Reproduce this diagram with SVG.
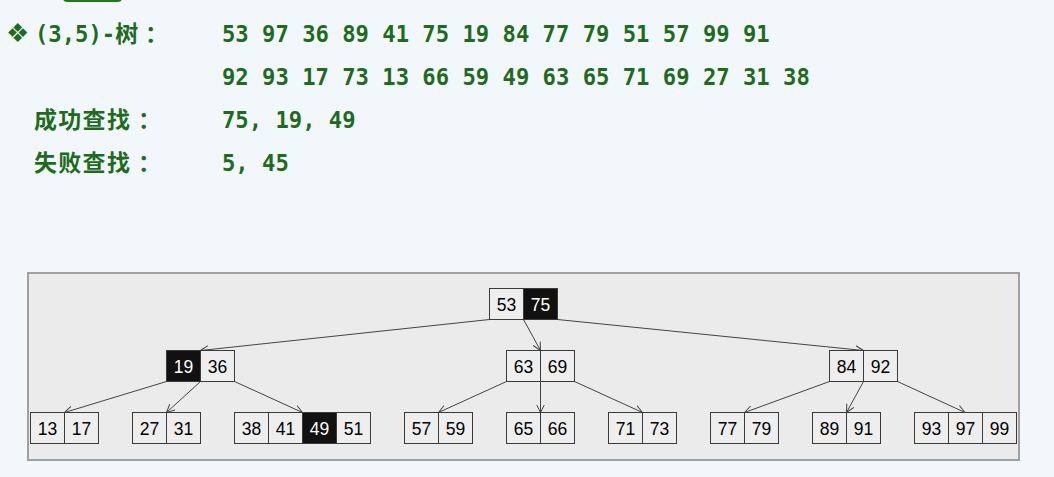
<svg xmlns="http://www.w3.org/2000/svg" width="1054" height="477" viewBox="0 0 1054 477">
<style>
.mono{font-family:"DejaVu Sans Mono","Liberation Mono",monospace;font-weight:bold;font-size:22.2px;fill:#1e6b1e}
.cjk{font-family:"Noto Sans CJK SC","Noto Sans",sans-serif;font-weight:bold;font-size:23px;fill:#1e6b1e;letter-spacing:1.3px}
.c{fill:#eeeeee;stroke:#3a3a3a;stroke-width:1}
.b{fill:#111111;stroke:#3a3a3a;stroke-width:1}
.t{font-family:"Liberation Sans",Arial,sans-serif;font-size:17.5px;fill:#000;text-anchor:middle}
.tw{font-family:"Liberation Sans",Arial,sans-serif;font-size:17.5px;fill:#fff;text-anchor:middle}
.e{stroke:#444;stroke-width:1;fill:none;marker-end:url(#ah)}
</style>
<defs>
<marker id="ah" markerUnits="userSpaceOnUse" markerWidth="10" markerHeight="10" refX="8" refY="4" orient="auto" viewBox="0 0 10 8">
<path d="M0,0 L8,4 L0,8" fill="none" stroke="#444" stroke-width="1"/>
</marker>
</defs>
<rect x="0" y="0" width="1054" height="477" fill="#f2f7fb"/>
<rect x="63" y="-8" width="59" height="10" rx="4" fill="#1f7a1f"/>
<g id="header">
<text x="6" y="42" style="font-family:'DejaVu Sans',sans-serif;font-size:26px;fill:#1e6b1e">❖</text>
<text x="35" y="42"><tspan class="mono">(3,5)-</tspan><tspan class="cjk">树</tspan><tspan class="cjk" x="145">：</tspan></text>
<text class="mono" x="222" y="42">53 97 36 89 41 75 19 84 77 79 51 57 99 91</text>
<text class="mono" x="222" y="85">92 93 17 73 13 66 59 49 63 65 71 69 27 31 38</text>
<text class="cjk" x="34" y="128">成功查找<tspan x="138">：</tspan></text>
<text class="mono" x="222" y="128">75, 19, 49</text>
<text class="cjk" x="34" y="171">失败查找<tspan x="138">：</tspan></text>
<text class="mono" x="222" y="171">5, 45</text>
</g>
<rect x="28" y="273" width="991" height="187" fill="#ebebeb" stroke="#a0a0a0" stroke-width="2"/>
<g id="connectors">
<line class="e" x1="489.5" y1="319.5" x2="200.5" y2="350.5"/>
<line class="e" x1="523.5" y1="319.5" x2="540.5" y2="350.5"/>
<line class="e" x1="557.5" y1="319.5" x2="863.5" y2="350.5"/>
<line class="e" x1="166.5" y1="381.5" x2="64.5" y2="412.5"/>
<line class="e" x1="200.5" y1="381.5" x2="166.5" y2="412.5"/>
<line class="e" x1="234.5" y1="381.5" x2="302.5" y2="412.5"/>
<line class="e" x1="506.5" y1="381.5" x2="438.5" y2="412.5"/>
<line class="e" x1="540.5" y1="381.5" x2="540.5" y2="412.5"/>
<line class="e" x1="574.5" y1="381.5" x2="642.5" y2="412.5"/>
<line class="e" x1="829.5" y1="381.5" x2="744.5" y2="412.5"/>
<line class="e" x1="863.5" y1="381.5" x2="846.5" y2="412.5"/>
<line class="e" x1="897.5" y1="381.5" x2="965" y2="412.5"/>
</g>
<g id="n-root">
<rect class="c" x="489.5" y="288.5" width="34" height="31"/><text class="t" x="506.5" y="310.5">53</text>
<rect class="b" x="523.5" y="288.5" width="34" height="31"/><text class="tw" x="540.5" y="310.5">75</text>
</g>
<g id="n-19-36">
<rect class="b" x="166.5" y="350.5" width="34" height="31"/><text class="tw" x="183.5" y="372.5">19</text>
<rect class="c" x="200.5" y="350.5" width="34" height="31"/><text class="t" x="217.5" y="372.5">36</text>
</g>
<g id="n-63-69">
<rect class="c" x="506.5" y="350.5" width="34" height="31"/><text class="t" x="523.5" y="372.5">63</text>
<rect class="c" x="540.5" y="350.5" width="34" height="31"/><text class="t" x="557.5" y="372.5">69</text>
</g>
<g id="n-84-92">
<rect class="c" x="829.5" y="350.5" width="34" height="31"/><text class="t" x="846.5" y="372.5">84</text>
<rect class="c" x="863.5" y="350.5" width="34" height="31"/><text class="t" x="880.5" y="372.5">92</text>
</g>
<g id="n-13-17">
<rect class="c" x="30.5" y="412.5" width="34" height="31"/><text class="t" x="47.5" y="434.5">13</text>
<rect class="c" x="64.5" y="412.5" width="34" height="31"/><text class="t" x="81.5" y="434.5">17</text>
</g>
<g id="n-27-31">
<rect class="c" x="132.5" y="412.5" width="34" height="31"/><text class="t" x="149.5" y="434.5">27</text>
<rect class="c" x="166.5" y="412.5" width="34" height="31"/><text class="t" x="183.5" y="434.5">31</text>
</g>
<g id="n-38-51">
<rect class="c" x="234.5" y="412.5" width="34" height="31"/><text class="t" x="251.5" y="434.5">38</text>
<rect class="c" x="268.5" y="412.5" width="34" height="31"/><text class="t" x="285.5" y="434.5">41</text>
<rect class="b" x="302.5" y="412.5" width="34" height="31"/><text class="tw" x="319.5" y="434.5">49</text>
<rect class="c" x="336.5" y="412.5" width="34" height="31"/><text class="t" x="353.5" y="434.5">51</text>
</g>
<g id="n-57-59">
<rect class="c" x="404.5" y="412.5" width="34" height="31"/><text class="t" x="421.5" y="434.5">57</text>
<rect class="c" x="438.5" y="412.5" width="34" height="31"/><text class="t" x="455.5" y="434.5">59</text>
</g>
<g id="n-65-66">
<rect class="c" x="506.5" y="412.5" width="34" height="31"/><text class="t" x="523.5" y="434.5">65</text>
<rect class="c" x="540.5" y="412.5" width="34" height="31"/><text class="t" x="557.5" y="434.5">66</text>
</g>
<g id="n-71-73">
<rect class="c" x="608.5" y="412.5" width="34" height="31"/><text class="t" x="625.5" y="434.5">71</text>
<rect class="c" x="642.5" y="412.5" width="34" height="31"/><text class="t" x="659.5" y="434.5">73</text>
</g>
<g id="n-77-79">
<rect class="c" x="710.5" y="412.5" width="34" height="31"/><text class="t" x="727.5" y="434.5">77</text>
<rect class="c" x="744.5" y="412.5" width="34" height="31"/><text class="t" x="761.5" y="434.5">79</text>
</g>
<g id="n-89-91">
<rect class="c" x="812.5" y="412.5" width="34" height="31"/><text class="t" x="829.5" y="434.5">89</text>
<rect class="c" x="846.5" y="412.5" width="34" height="31"/><text class="t" x="863.5" y="434.5">91</text>
</g>
<g id="n-93-99">
<rect class="c" x="914.5" y="412.5" width="34" height="31"/><text class="t" x="931.5" y="434.5">93</text>
<rect class="c" x="948.5" y="412.5" width="34" height="31"/><text class="t" x="965.5" y="434.5">97</text>
<rect class="c" x="982.5" y="412.5" width="34" height="31"/><text class="t" x="999.5" y="434.5">99</text>
</g>
</svg>
